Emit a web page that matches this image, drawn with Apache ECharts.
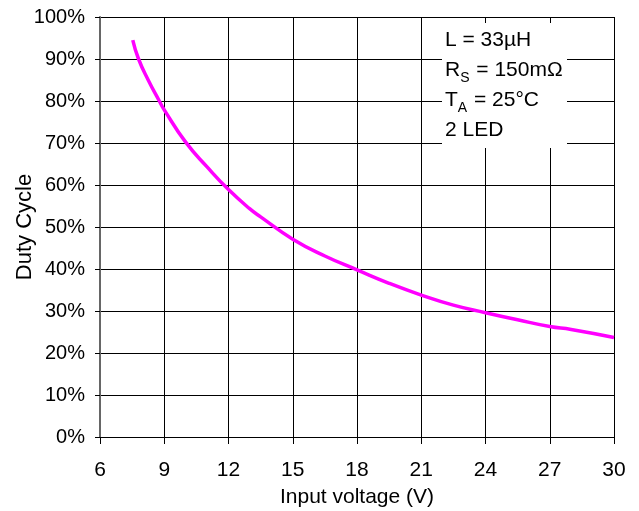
<!DOCTYPE html>
<html>
<head>
<meta charset="utf-8">
<script src="https://cdn.jsdelivr.net/npm/echarts@6/dist/echarts.min.js"></script>
<style>
html,body{margin:0;padding:0;background:#fff;}
#c{width:639px;height:511px;}
</style>
</head>
<body>
<div id="c"></div>
<script>
var inputVoltage = [7.53, 7.8, 8.25, 8.77, 9, 10, 11, 12, 13, 13.5, 15, 16.5, 18, 19.5, 21, 22.5, 24, 25.5, 27, 28, 30];
var dutyCycle = [94.5, 90.0, 85.0, 80.0, 77.9, 70.2, 64.3, 58.9, 54.3, 52.4, 47.1, 43.1, 39.8, 36.6, 33.8, 31.4, 29.6, 27.9, 26.3, 25.6, 23.7];
var xTicks = [6, 9, 12, 15, 18, 21, 24, 27, 30];
var yTicks = [0, 10, 20, 30, 40, 50, 60, 70, 80, 90, 100];
var annotationLines = ['L = 33µH', 'R{sub|S} = 150mΩ', 'T{sub|A} = 25°C', '2 LED'];

var FONT = 'Liberation Sans, Arial, sans-serif';
var chart = echarts.init(document.getElementById('c'), null, {renderer: 'canvas'});
var points = inputVoltage.map(function (v, i) { return [v, dutyCycle[i]]; });

chart.setOption({
  backgroundColor: '#fff',
  animation: false,
  grid: {left: 100, right: 25, top: 17, bottom: 74, containLabel: false, outerBoundsMode: 'none'},
  xAxis: {
    type: 'value',
    min: xTicks[0], max: xTicks[xTicks.length - 1], interval: 3,
    name: 'Input voltage (V)', nameLocation: 'middle', nameGap: 50, nameMoveOverlap: false,
    nameTextStyle: {color: '#000', fontSize: 21, fontFamily: FONT},
    axisLine: {show: true, lineStyle: {color: '#000', width: 1}},
    axisTick: {show: true, length: 7, lineStyle: {color: '#000'}},
    axisLabel: {color: '#000', fontSize: 21, fontFamily: FONT, margin: 23},
    splitLine: {show: true, lineStyle: {color: '#000', width: 1}}
  },
  yAxis: {
    type: 'value',
    min: yTicks[0], max: yTicks[yTicks.length - 1], interval: 10,
    name: 'Duty Cycle', nameLocation: 'middle', nameGap: 64, nameRotate: 90, nameMoveOverlap: false,
    nameTextStyle: {color: '#000', fontSize: 22, fontFamily: FONT},
    axisLine: {show: true, lineStyle: {color: '#666', width: 2}},
    axisTick: {show: true, length: 5, lineStyle: {color: '#000'}},
    axisLabel: {color: '#000', fontSize: 20, fontFamily: FONT, margin: 15, formatter: '{value}%'},
    splitLine: {show: true, lineStyle: {color: '#000', width: 1}}
  },
  graphic: [
    {type: 'rect', left: 442, top: 23, z: 50, shape: {width: 125, height: 125}, style: {fill: '#fff'}},
    {type: 'text', left: 445, top: 25, z: 51,
     style: {
       text: annotationLines.join('\n'),
       fill: '#000', fontSize: 21, fontFamily: FONT, lineHeight: 30,
       rich: {
         sub: {fontSize: 14, fontFamily: FONT, fill: '#000', verticalAlign: 'bottom', lineHeight: 30, padding: [0, 1, 0, 0]}
       }
     }}
  ],
  series: [{
    type: 'line',
    data: points,
    smooth: true,
    showSymbol: false,
    z: 60,
    lineStyle: {color: '#ff00ff', width: 3.5}
  }]
});
</script>
</body>
</html>
